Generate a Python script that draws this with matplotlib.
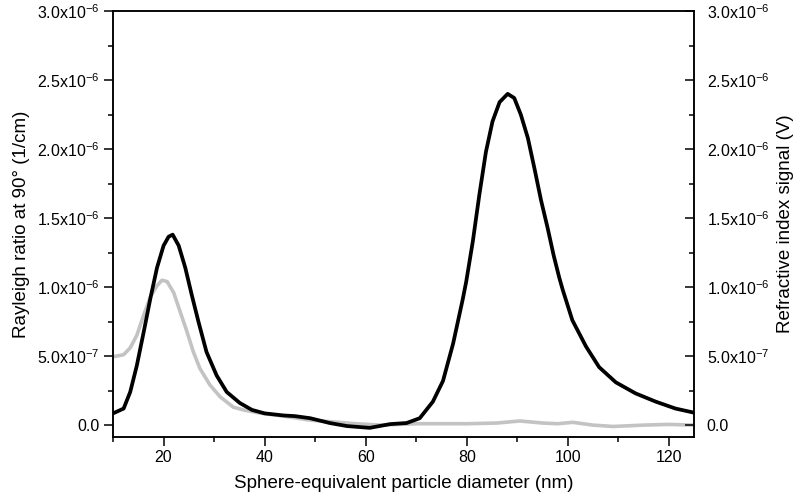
import matplotlib.pyplot as plt
from matplotlib.ticker import MultipleLocator, FuncFormatter

plt.rcParams["font.family"] = ["Liberation Sans", "DejaVu Sans"]
plt.rcParams["mathtext.fontset"] = "custom"
plt.rcParams["mathtext.rm"] = "Liberation Sans"
plt.rcParams["mathtext.it"] = "Liberation Sans"

# Rayleigh ratio (black), values in 1e-6 1/cm
ls_d = [10.0, 12.1, 13.4, 14.7, 16.1, 17.4, 18.7, 20.0, 21.0, 21.8, 23.0, 24.3,
        25.6, 26.9, 28.5, 30.5, 32.5, 35.1, 37.5, 40.0, 43.7, 46.0, 49.0, 52.9,
        56.3, 60.8, 64.8, 68.1, 70.7, 73.3, 75.3, 77.3, 79.2, 79.9, 81.2, 82.5,
        83.8, 85.1, 86.5, 88.1, 89.4, 90.7, 92.1, 93.4, 94.7, 96.0, 97.2, 98.3,
        99.0, 100.9, 103.6, 106.2, 109.5, 113.4, 117.4, 121.3, 125.0]
ls_val = [0.085, 0.12, 0.24, 0.43, 0.68, 0.92, 1.14, 1.30, 1.365, 1.38, 1.30, 1.14,
          0.94, 0.75, 0.53, 0.36, 0.24, 0.16, 0.11, 0.085, 0.07, 0.065, 0.05, 0.015,
          -0.007, -0.02, 0.007, 0.015, 0.05, 0.17, 0.32, 0.59, 0.91, 1.04, 1.33, 1.67,
          1.98, 2.20, 2.34, 2.40, 2.37, 2.25, 2.08, 1.86, 1.63, 1.43, 1.23, 1.07,
          0.98, 0.76, 0.57, 0.42, 0.31, 0.23, 0.17, 0.12, 0.09]

# Refractive index signal (grey), values in 1e-6 V
ri_d = [10.0, 12.1, 13.4, 14.7, 16.1, 17.4, 18.7, 19.7, 20.7, 22.0, 23.3, 24.6,
        25.9, 27.2, 29.2, 31.2, 33.8, 35.8, 39.1, 43.7, 49.0, 53.0, 58.0, 63.0,
        70.0, 80.0, 86.0, 90.5, 95.0, 98.0, 101.0, 105.0, 109.0, 115.0, 120.0, 125.0]
ri_val = [0.495, 0.51, 0.56, 0.65, 0.80, 0.93, 1.01, 1.05, 1.04, 0.96, 0.82, 0.68,
          0.53, 0.41, 0.29, 0.205, 0.13, 0.11, 0.087, 0.065, 0.036, 0.025, 0.01, 0.0,
          0.01, 0.01, 0.015, 0.03, 0.015, 0.01, 0.02, 0.0, -0.01, 0.0, 0.005, 0.0]


def sci_fmt(v, pos):
    if abs(v) < 1e-12:
        return "0.0"
    exp = 0
    m = v
    while abs(m) < 1:
        m *= 10
        exp -= 1
    return r"%.1fx10$^{%d}$" % (m, exp)


fig, ax = plt.subplots(figsize=(7.96, 5.03), dpi=100)
fig.subplots_adjust(left=0.142, right=0.872, top=0.978, bottom=0.131)

ax.plot(ri_d, [v * 1e-6 for v in ri_val], color="#c3c3c3", lw=2.6,
        solid_joinstyle="round")
ax.plot(ls_d, [v * 1e-6 for v in ls_val], color="black", lw=2.7,
        solid_joinstyle="round")

ax.set_xlim(10, 125)
ax.set_ylim(-0.087e-6, 3.0e-6)
ax.xaxis.set_major_locator(MultipleLocator(20))
ax.xaxis.set_minor_locator(MultipleLocator(10))
ax.yaxis.set_major_locator(MultipleLocator(0.5e-6))
ax.yaxis.set_minor_locator(MultipleLocator(0.25e-6))
ax.yaxis.set_major_formatter(FuncFormatter(sci_fmt))
ax.tick_params(which="both", direction="out", width=1.1, labelsize=11.5,
               top=False, right=False, pad=3)
ax.tick_params(which="major", length=6.5)
ax.tick_params(which="minor", length=3.6)
for s in ax.spines.values():
    s.set_linewidth(1.1)

ax.set_xlabel("Sphere-equivalent particle diameter (nm)", fontsize=13.5, labelpad=7)
ax.set_ylabel("Rayleigh ratio at 90° (1/cm)", fontsize=13.5, labelpad=5)

ax2 = ax.twinx()
ax2.set_ylim(ax.get_ylim())
ax2.yaxis.set_major_locator(MultipleLocator(0.5e-6))
ax2.yaxis.set_minor_locator(MultipleLocator(0.25e-6))
ax2.yaxis.set_major_formatter(FuncFormatter(sci_fmt))
ax2.tick_params(which="both", direction="in", width=1.1, labelsize=11.5, pad=9)
ax2.tick_params(which="major", length=6.5)
ax2.tick_params(which="minor", length=3.6)
for s in ax2.spines.values():
    s.set_linewidth(1.1)
ax2.set_ylabel("Refractive index signal (V)", fontsize=13.5, labelpad=6)

fig.savefig("out.png", dpi=100)
